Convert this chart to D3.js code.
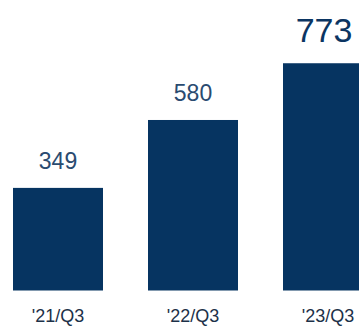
<!DOCTYPE html>
<html>
<head>
<meta charset="utf-8">
<script src="https://cdn.jsdelivr.net/npm/d3@7"></script>
<style>
  body { margin: 0; background: #fff; }
  svg { display: block; }
  text { font-family: "Liberation Sans", Arial, sans-serif; }
</style>
</head>
<body>
<svg id="graphic" width="359" height="326"></svg>
<script>
// chart values
const periods = ["'21/Q3", "'22/Q3", "'23/Q3"];
const values = [349, 580, 773];

const width = 359, height = 326;
const baseline = 290.5;

const svg = d3.select('#graphic');

const xScale = d3
    .scaleBand()
    .domain(periods)
    .range([-9.5, 395.5])
    .paddingInner(1 / 3)
    .paddingOuter(1 / 6);

const yScale = d3
    .scaleLinear()
    .domain([0, 1000])
    .range([baseline, baseline - 294]);

const data = periods.map((p, i) => ({ period: p, value: values[i], last: i === periods.length - 1 }));

svg.selectAll('.bar')
    .data(data)
    .enter()
    .append('rect')
    .classed('bar', true)
    .attr('x', d => xScale(d.period))
    .attr('y', d => yScale(d.value))
    .attr('width', xScale.bandwidth())
    .attr('height', d => baseline - yScale(d.value))
    .attr('fill', '#063461');

// value labels, latest one emphasised
svg.selectAll('.val')
    .data(data)
    .enter()
    .append('text')
    .classed('val', true)
    .attr('x', d => xScale(d.period) + xScale.bandwidth() / 2 - (d.last ? 4 : 0))
    .attr('y', d => yScale(d.value) - (d.last ? 21 : 19))
    .attr('text-anchor', 'middle')
    .attr('font-size', d => d.last ? '34px' : '23px')
    .attr('fill', d => d.last ? '#0b3562' : '#2a4b70')
    .text(d => d.value);

// category axis without line/ticks
const xAxis = d3.axisBottom(xScale).tickSize(0).tickPadding(0);
const gx = svg.append('g')
    .attr('transform', `translate(0, ${baseline})`)
    .call(xAxis);
gx.select('.domain').remove();
gx.selectAll('text')
    .attr('dy', null)
    .attr('y', 31.5)
    .attr('font-size', '18px')
    .attr('font-family', '"Liberation Sans", Arial, sans-serif')
    .attr('fill', '#1d3149');
</script>
</body>
</html>
